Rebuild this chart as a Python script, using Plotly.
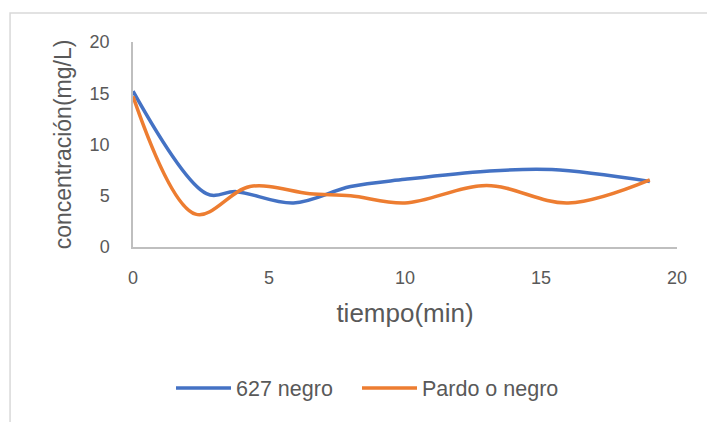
import plotly.graph_objects as go

# Data
t_627 = [0, 2.7, 3.8, 5.9, 8, 10, 13, 15.4, 19]
c_627 = [15.2, 5.2, 5.4, 4.3, 5.9, 6.6, 7.4, 7.55, 6.4]
t_pardo = [0, 2.3, 4.3, 6.5, 8, 10, 13, 16, 19]
c_pardo = [14.7, 3.2, 5.9, 5.2, 5.0, 4.3, 6.0, 4.3, 6.55]
series_names = ["627 negro", "Pardo o negro"]
x_ticks = [0, 5, 10, 15, 20]
y_ticks = [0, 5, 10, 15, 20]

FONT = "Liberation Sans, Arial, sans-serif"
GRAY = "#595959"

fig = go.Figure()
fig.add_trace(go.Scatter(x=t_627, y=c_627, name=series_names[0], mode="lines", legend="legend",
                         line=dict(color="#4472C4", width=3.5, shape="spline", smoothing=1)))
fig.add_trace(go.Scatter(x=t_pardo, y=c_pardo, name=series_names[1], mode="lines", legend="legend2",
                         line=dict(color="#ED7D31", width=3.5, shape="spline", smoothing=1)))

leg_common = dict(orientation="h", xanchor="left", yanchor="middle", y=-0.688,
                  font=dict(size=21.5, color=GRAY), itemwidth=55, bgcolor="rgba(0,0,0,0)")

fig.update_layout(
    width=707, height=422,
    margin=dict(l=133, r=30, t=42, b=175),
    paper_bgcolor="white", plot_bgcolor="white",
    font=dict(family=FONT, color=GRAY, size=18),
    showlegend=True,
    legend=dict(x=(171 - 133) / 544, **leg_common),
    legend2=dict(x=(357 - 133) / 544, **leg_common),
    xaxis=dict(range=[0, 20], tickvals=x_ticks, showgrid=False, zeroline=False,
               showline=True, linecolor="#BFBFBF", linewidth=1.5, ticks="",
               ticklabelstandoff=14, tickfont=dict(size=18),
               title=dict(text="tiempo(min)", font=dict(size=26, color=GRAY), standoff=16)),
    yaxis=dict(range=[0, 20], tickvals=y_ticks, showgrid=False, zeroline=False,
               showline=True, linecolor="#BFBFBF", linewidth=1.5, ticks="",
               ticklabelstandoff=18, tickfont=dict(size=18),
               title=dict(text="concentración(mg/L)", font=dict(size=23, color=GRAY), standoff=12)),
    shapes=[dict(type="rect", xref="paper", yref="paper", x0=-0.226, x1=2, y0=-2, y1=1.1415,
                 line=dict(color="#D9D9D9", width=1.5), fillcolor="rgba(0,0,0,0)", layer="below")],
)

fig.write_html("out.html")
